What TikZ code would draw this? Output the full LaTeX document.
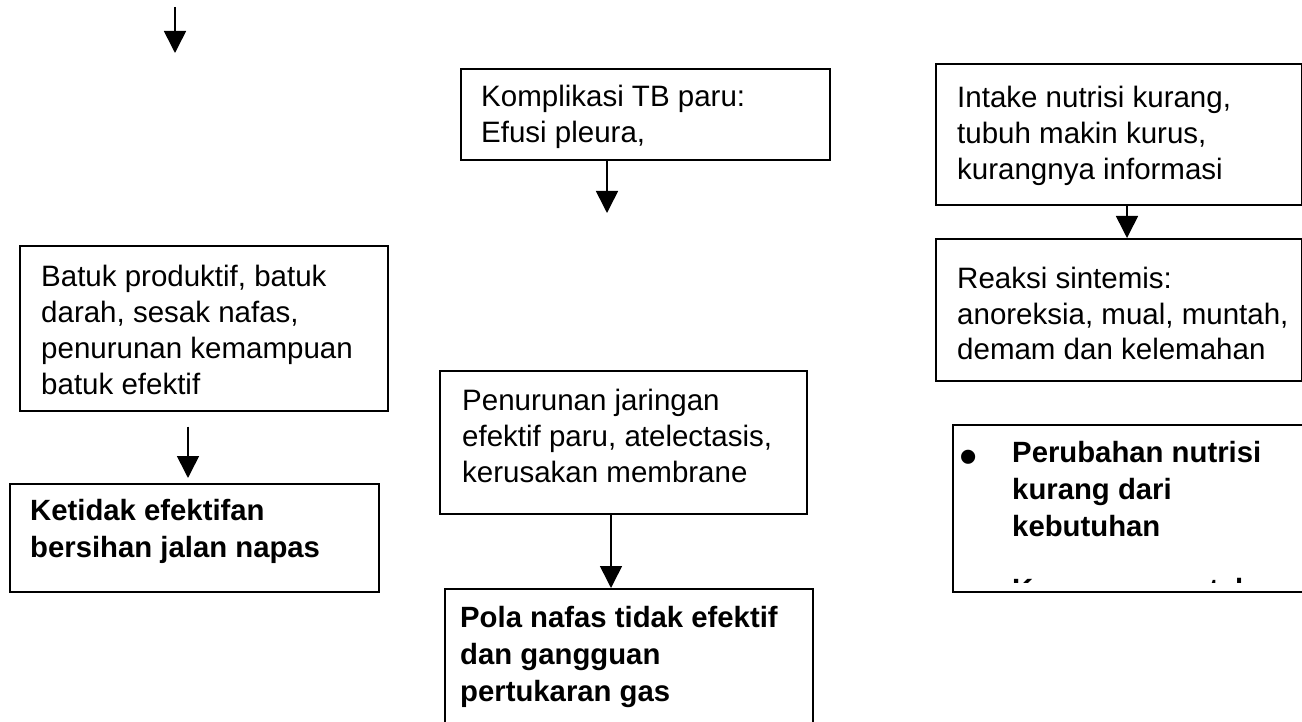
\documentclass[tikz,border=0pt]{standalone}
\usepackage{fontspec}
\setmainfont{Liberation Sans}
\usetikzlibrary{arrows.meta}
\tikzset{
  box/.style={draw=black, line width=1.6pt, rectangle, inner sep=0pt, anchor=north west},
  txt/.style={anchor=base west, inner sep=0pt, font=\fontsize{29.5}{36}\selectfont},
  btxt/.style={anchor=base west, inner sep=0pt, font=\fontsize{29.3}{37}\selectfont\bfseries},
  arr/.style={line width=1.6pt, -{Triangle[width=22pt,length=22pt]}},
}
\begin{document}
\begin{tikzpicture}[x=1pt,y=-1pt]
\useasboundingbox (0,0) rectangle (1302,722);
\fill[white] (0,0) rectangle (1302,722);

% boxes
\node[box, minimum width=369pt, minimum height=91pt] (komp) at (460,68) {};
\node[txt] (kompt) at (481,107) {\parbox[t]{400pt}{Komplikasi TB paru:\\Efusi pleura,}};

\node[box, minimum width=366pt, minimum height=141pt] (intake) at (935,63) {};
\node[txt] (intaket) at (957,108) {\parbox[t]{400pt}{Intake nutrisi kurang,\\tubuh makin kurus,\\kurangnya informasi}};

\node[box, minimum width=366pt, minimum height=142pt] (reaksi) at (935,238) {};
\node[txt] (reaksit) at (957,288) {\parbox[t]{400pt}{Reaksi sintemis:\\anoreksia, mual, muntah,\\demam dan kelemahan}};

\node[box, minimum width=368pt, minimum height=165pt] (batuk) at (19,245) {};
\node[txt] (batukt) at (41,287) {\parbox[t]{400pt}{Batuk produktif, batuk\\darah, sesak nafas,\\penurunan kemampuan\\batuk efektif}};

\node[box, minimum width=369pt, minimum height=108pt] (ketidak) at (9,483) {};
\node[btxt] (ketidakt) at (30,520) {\parbox[t]{400pt}{Ketidak efektifan\\bersihan jalan napas}};

\node[box, minimum width=367pt, minimum height=143pt] (penurunan) at (439,370) {};
\node[txt] (penurunant) at (462,410) {\parbox[t]{400pt}{Penurunan jaringan\\efektif paru, atelectasis,\\kerusakan membrane}};

\node[box, minimum width=368pt, minimum height=150pt] (pola) at (444,588) {};
\node[btxt] (polat) at (460,627) {\parbox[t]{400pt}{Pola nafas tidak efektif\\dan gangguan\\pertukaran gas}};

\node[box, minimum width=360pt, minimum height=167pt] (perubahan) at (952,424) {};
\node[anchor=base, inner sep=0pt, font=\fontsize{52}{52}\selectfont] (bul) at (969,474) {•};
\begin{scope}
  \clip (952,424) rectangle (1302,582);
  \node[btxt] (perubahant) at (1012,462) {\parbox[t]{400pt}{Perubahan nutrisi\\kurang dari\\kebutuhan\\[26pt]Kurang pengetahuan}};
\end{scope}

% connectors
\coordinate (a1s) at (175,7);
\coordinate (a1e) at (175,53);
\draw[arr] (a1s) -- (a1e);

\coordinate (x2) at (607,0);
\coordinate (a2e) at (607,213);
\draw[arr] (komp.south -| x2) -- (a2e);

\coordinate (x3) at (1127,0);
\draw[arr] (intake.south -| x3) -- (reaksi.north -| x3);

\coordinate (x4) at (188,0);
\draw[arr, shorten <=15pt, shorten >=5pt] (batuk.south -| x4) -- (ketidak.north -| x4);

\coordinate (x5) at (611,0);
\draw[arr] (penurunan.south -| x5) -- (pola.north -| x5);
\end{tikzpicture}
\end{document}
